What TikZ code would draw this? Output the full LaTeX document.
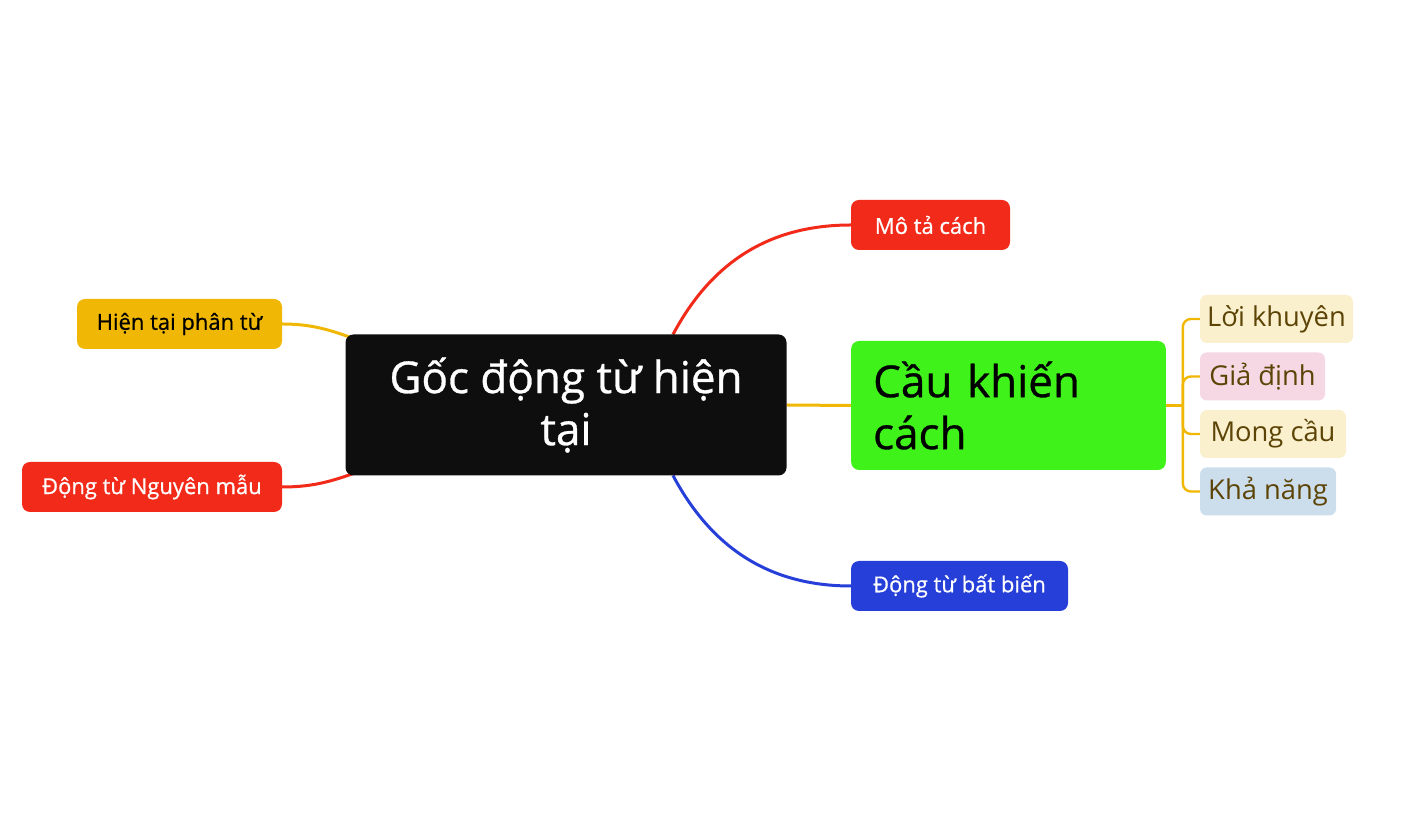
\documentclass[tikz,border=0pt]{standalone}
\usepackage{fontspec}
\setmainfont{Open Sans}
\newfontfamily\mediumfont{Open Sans}[FakeBold=0.7]
\usetikzlibrary{backgrounds}
\definecolor{rootblack}{HTML}{0E0E0E}
\definecolor{mapgreen}{HTML}{3EF21A}
\definecolor{mapred}{HTML}{F22A1A}
\definecolor{mapblue}{HTML}{263FD9}
\definecolor{mapyellow}{HTML}{F0B705}
\definecolor{leafcream}{HTML}{FBF0CE}
\definecolor{leafpink}{HTML}{F5D8E4}
\definecolor{leafblue}{HTML}{CCDDEB}
\definecolor{leaftext}{HTML}{5C4406}
\tikzstyle{topic}=[rounded corners=6pt, inner sep=0, outer sep=0, align=center]
\tikzstyle{bigtopic}=[topic, font=\mediumfont\fontsize{33}{39}\selectfont]
\tikzstyle{branch}=[topic, minimum height=37.5pt, font=\mediumfont\fontsize{16.5}{18}\selectfont]
\tikzstyle{leaf}=[topic, rounded corners=5pt, minimum height=36pt, text=leaftext,
                  font=\fontsize{20.5}{22}\selectfont]
\tikzstyle{link}=[line width=2.25pt]

\begin{document}
\begin{tikzpicture}[x=0.75pt, y=0.75pt]
    \useasboundingbox (0, 0) rectangle (1409, 813);
    % main topics
    \node[bigtopic, fill=rootblack, text=white, minimum width=330.75pt, minimum height=105.75pt]
        (root) at (566, 408) {Gốc động từ hiện\\tại};
    \node[bigtopic, fill=mapgreen, align=left, text width=203pt, inner xsep=16.5pt, minimum height=96.75pt]
        (cau) at (1008.5, 407.5) {Cầu khiến\\cách};
    \node[branch, fill=mapred, text=white, minimum width=119.25pt] (mota) at (930.5, 588) {Mô tả cách};
    \node[branch, fill=mapblue, text=white, minimum width=162.75pt] (batbien) at (959.5, 227) {Động từ bất biến};
    \node[branch, fill=mapyellow, minimum width=153.75pt] (phantu) at (179.5, 489) {Hiện tại phân từ};
    \node[branch, fill=mapred, text=white, minimum width=195pt] (nguyenmau) at (152, 326) {Động từ Nguyên mẫu};
    % sub topics
    \node[leaf, fill=leafcream, minimum width=114.75pt] (loikhuyen) at (1276.5, 494) {Lời khuyên};
    \node[leaf, fill=leafpink, minimum width=93.75pt] (giadinh) at (1262.5, 436.5) {Giả định};
    \node[leaf, fill=leafcream, minimum width=109.5pt] (mongcau) at (1273, 379) {Mong cầu};
    \node[leaf, fill=leafblue, minimum width=102pt] (khanang) at (1268, 321.5) {Khả năng};
    \coordinate (fork) at ([xshift=12.75pt]cau.east);

    \begin{scope}[on background layer]
        \draw[link, mapyellow] (root.east) -- (cau.west);
        \draw[link, mapred] ([xshift=80.25pt]root.north) to[out=62, in=180] (mota.west);
        \draw[link, mapblue] ([xshift=80.25pt]root.south) to[out=-62, in=180] (batbien.west);
        \draw[link, mapyellow] (phantu.east) to[out=0, in=160] (366, 470);
        \draw[link, mapred] (nguyenmau.east) to[out=0, in=200] (366, 344);
        \draw[link, mapyellow] (cau.east) -- (fork);
        \foreach \leafname in {loikhuyen, giadinh, mongcau, khanang}
            \draw[link, mapyellow, line width=1.8pt, rounded corners=6pt] (fork) |- (\leafname.west);
    \end{scope}
\end{tikzpicture}
\end{document}
